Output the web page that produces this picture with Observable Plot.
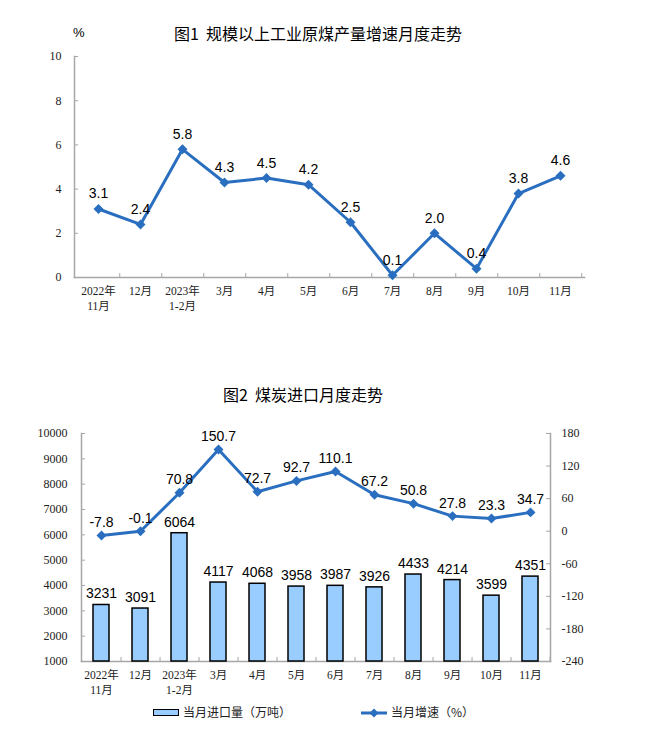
<!DOCTYPE html>
<html><head><meta charset="utf-8">
<script src="https://cdn.jsdelivr.net/npm/d3@7"></script>
<script src="https://cdn.jsdelivr.net/npm/@observablehq/plot@0.6"></script>
<style>
body{margin:0;background:#fff;}
#wrap{position:relative;width:660px;height:737px;font-family:"Noto Sans CJK SC","Noto Sans",sans-serif;color:#000;}
.title{position:absolute;text-align:center;font-size:16px;line-height:20px;white-space:nowrap;}
.abs{position:absolute;}
.legtxt{position:absolute;font-size:12px;line-height:14px;white-space:nowrap;color:#222;}
</style></head><body>
<div id="wrap">
  <div class="title" style="left:0;width:636px;top:23px;">图1&nbsp;&nbsp;规模以上工业原煤产量增速月度走势</div>
  <div class="abs" style="left:73px;top:25px;font-size:13px;line-height:16px;font-family:'Liberation Sans',Arial,sans-serif;">%</div>
  <div id="chart1" class="abs" style="left:0;top:0;"></div>
  <div class="title" style="left:0;width:606px;top:384px;">图2&nbsp;&nbsp;煤炭进口月度走势</div>
  <div id="chart2" class="abs" style="left:0;top:400px;"></div>
  <div class="abs" style="left:153px;top:709px;width:24px;height:5px;border:1.5px solid #000;background:#99ccff;"></div>
  <div class="legtxt" style="left:183px;top:705px;">当月进口量（万吨）</div>
  <svg class="abs" style="left:358px;top:705px;" width="32" height="16">
    <line x1="3" y1="8" x2="29" y2="8" stroke="#2a6fbf" stroke-width="3"/>
    <path d="M16,3.5L20.5,8L16,12.5L11.5,8Z" fill="#2a6fbf"/>
  </svg>
  <div class="legtxt" style="left:391px;top:705px;">当月增速（%）</div>
</div>
<script>
// ---- Data ----
const months = ["2022年\n11月","12月","2023年\n1-2月","3月","4月","5月","6月","7月","8月","9月","10月","11月"];
const outputGrowth = [3.1,2.4,5.8,4.3,4.5,4.2,2.5,0.1,2.0,0.4,3.8,4.6];
const imports = [3231,3091,6064,4117,4068,3958,3987,3926,4433,4214,3599,4351];
const importGrowth = [-7.8,-0.1,70.8,150.7,72.7,92.7,110.1,67.2,50.8,27.8,23.3,34.7];
const yTicks1 = [0,2,4,6,8,10];
const yTicksLeft2 = [1000,2000,3000,4000,5000,6000,7000,8000,9000,10000];
const yTicksRight2 = [-240,-180,-120,-60,0,60,120,180];

const lineColor = "#2a6fbf";
const axisColor = "#a6a6a6";
const tickFont = "'Liberation Serif','Times New Roman','Noto Sans CJK SC',serif";
const labelFont = "'Liberation Sans',Arial,sans-serif";

// ---- Chart 1 ----
{
  const W = 660, H = 320, ml = 74, mr = 76, mt = 56, mb = 43;
  const pw = W - ml - mr, ph = H - mt - mb, step = pw / months.length;
  const rows = months.map((m, i) => ({m, v: outputGrowth[i]}));
  const chart = Plot.plot({
    width: W, height: H, marginLeft: ml, marginRight: mr, marginTop: mt, marginBottom: mb,
    style: {background: "transparent", color: "#222"},
    x: {type: "band", domain: months, padding: 0, label: null},
    y: {domain: [0, 10], label: null},
    marks: [
      Plot.frame({anchor: "left", stroke: axisColor, strokeWidth: 1.5}),
      Plot.frame({anchor: "bottom", stroke: axisColor, strokeWidth: 1.5}),
      Plot.ruleY(yTicks1, {stroke: axisColor, insetRight: pw - 4}),
      Plot.ruleX(months, {x: d => d, dx: step / 2, stroke: axisColor, insetTop: ph - 4}),
      Plot.axisY({ticks: yTicks1, tickFormat: d => String(d), tickSize: 0, tickPadding: 13, fontSize: 12, fontFamily: tickFont, label: null}),
      Plot.axisX({tickSize: 0, tickPadding: 7, fontSize: 11.5, fontFamily: tickFont, lineHeight: 1.3, label: null}),
      Plot.line(rows, {x: "m", y: "v", stroke: lineColor, strokeWidth: 3}),
      Plot.dot(rows, {x: "m", y: "v", symbol: "diamond2", r: 4.5, fill: lineColor, stroke: null}),
      Plot.text(rows, {x: "m", y: "v", text: d => d.v.toFixed(1), dy: -15, fontSize: 14, fontFamily: labelFont, fill: "#000"})
    ]
  });
  document.getElementById("chart1").appendChild(chart);
}

// ---- Chart 2 ----
{
  const W = 660, H = 300, ml = 81, mr = 110, mt = 33, mb = 39;
  const pw = W - ml - mr, ph = H - mt - mb, step = pw / months.length;
  const [lMin, lMax] = [1000, 10000];
  const [rMin, rMax] = [-240, 180];
  const toLeft = p => lMin + (p - rMin) * (lMax - lMin) / (rMax - rMin);
  const toRight = v => rMin + (v - lMin) * (rMax - rMin) / (lMax - lMin);
  const rows = months.map((m, i) => ({m, v: imports[i], g: importGrowth[i]}));
  const chart = Plot.plot({
    width: W, height: H, marginLeft: ml, marginRight: mr, marginTop: mt, marginBottom: mb,
    style: {background: "transparent", color: "#222"},
    x: {type: "band", domain: months, paddingInner: 0.59, paddingOuter: 0.295, label: null},
    y: {domain: [lMin, lMax], label: null},
    marks: [
      Plot.frame({anchor: "left", stroke: axisColor, strokeWidth: 1.5}),
      Plot.frame({anchor: "right", stroke: axisColor, strokeWidth: 1.5}),
      Plot.frame({anchor: "bottom", stroke: axisColor, strokeWidth: 1.5}),
      Plot.ruleY(yTicksLeft2, {stroke: axisColor, insetRight: pw - 4}),
      Plot.ruleY(yTicksRight2.map(toLeft), {stroke: axisColor, insetLeft: pw - 4}),
      Plot.ruleX(months, {x: d => d, dx: step / 2, stroke: axisColor, insetTop: ph - 4}),
      Plot.axisY({ticks: yTicksLeft2, tickFormat: d => String(d), tickSize: 0, tickPadding: 14, fontSize: 12, fontFamily: tickFont, label: null}),
      Plot.axisY({anchor: "right", ticks: yTicksRight2.map(toLeft), tickFormat: v => String(Math.round(toRight(v))), tickSize: 0, tickPadding: 11, fontSize: 12, fontFamily: tickFont, label: null}),
      Plot.axisX({tickSize: 0, tickPadding: 7, fontSize: 11.5, fontFamily: tickFont, lineHeight: 1.3, label: null}),
      Plot.barY(rows, {x: "m", y1: lMin, y2: "v", fill: "#99ccff", stroke: "#000", strokeWidth: 1.5}),
      Plot.text(rows, {x: "m", y: "v", text: d => String(d.v), dy: -11, fontSize: 14, fontFamily: labelFont, fill: "#000"}),
      Plot.line(rows, {x: "m", y: d => toLeft(d.g), stroke: lineColor, strokeWidth: 3}),
      Plot.dot(rows, {x: "m", y: d => toLeft(d.g), symbol: "diamond2", r: 4.5, fill: lineColor, stroke: null}),
      Plot.text(rows, {x: "m", y: d => toLeft(d.g), text: d => d.g.toFixed(1), dy: -13, fontSize: 14, fontFamily: labelFont, fill: "#000"})
    ]
  });
  document.getElementById("chart2").appendChild(chart);
}
</script>
</body></html>
